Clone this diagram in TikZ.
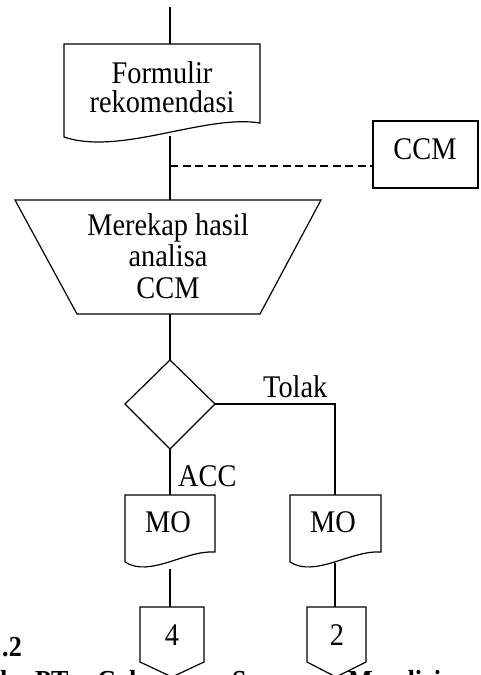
\documentclass[tikz,border=0pt]{standalone}
\usepackage{fontspec}
\setmainfont{Liberation Serif}[FakeStretch=0.9]
\begin{document}
\begin{tikzpicture}[x=1pt,y=-1pt,
  outline/.style={draw=black,line width=1.2pt,line join=miter,fill=white},
  flowline/.style={draw=black,line width=1.2pt},
  linkline/.style={flowline,dash pattern=on 8pt off 4.5pt},
  txt/.style={font=\fontsize{31.5}{28.5}\selectfont,inner sep=0pt,align=center},
  txtwide/.style={txt,font=\fontsize{31.5}{31.5}\selectfont},
  captxt/.style={font=\fontsize{29}{29}\selectfont\bfseries,inner sep=0pt}]
\useasboundingbox (0,0) rectangle (480,675);
\clip (0,0) rectangle (480,675);

% caption lines, partly hidden behind the off-page connectors
\node[captxt,anchor=base east] (capnum) at (22,656) {.2};
\node[captxt,anchor=base west] (capk) at (0,690) {k};
\node[captxt,anchor=base west] (cappt) at (35,690) {PT.};
\node[captxt,anchor=base west] (capcahaya) at (97,690) {Cahaya};
\node[captxt,anchor=base west] (capsarana) at (232,690) {Sarana};
\node[captxt,anchor=base west] (capmandiri) at (348,690) {Mandiri};

% ports of the shapes
\coordinate (start) at (170,7);
\coordinate (formtop) at (170,44);
\coordinate (formbot) at (170,136);
\coordinate (tap) at (170,166);
\coordinate (ccmleft) at (373,166);
\coordinate (rekaptop) at (170,200);
\coordinate (rekapbot) at (170,314);
\coordinate (dtop) at (170,360);
\coordinate (dright) at (215,404);
\coordinate (dbot) at (170,449);
\coordinate (tolakbend) at (335,404);
\coordinate (mo1top) at (170,495);
\coordinate (mo2top) at (335,495);
\coordinate (mo1bot) at (170,569);
\coordinate (mo2bot) at (335,563);
\coordinate (off1top) at (170,607);
\coordinate (off2top) at (335,607);

% document: Formulir rekomendasi
\path[outline] (64,44) -- (260,44) -- (260,123)
  .. controls (205,114) and (120,156) .. (64,137) -- cycle;
\node[txt,anchor=base] (form) at (162,112) {Formulir\\rekomendasi};

% CCM box
\path[outline] (373,121) rectangle (478,188);
\node[txt,anchor=base] (ccm) at (425,159) {CCM};

% manual operation: Merekap hasil analisa CCM
\path[outline] (15,200) -- (321,200) -- (260,314) -- (77,314) -- cycle;
\node[txtwide,anchor=base] (rekap) at (168,298) {Merekap hasil\\analisa\\CCM};

% decision
\path[outline] (dtop) -- (dright) -- (dbot) -- (125,404) -- cycle;
\node[inner sep=0pt] (decision) at (170,404) {};

% documents MO
\path[outline] (125,495) -- (215,495) -- (215,552)
  .. controls (185,550) and (150,578) .. (125,562) -- cycle;
\node[txt,anchor=base] (mo1) at (168,532) {MO};
\begin{scope}[shift={(165,0)}]
\path[outline] (125,495) -- (216,495) -- (216,552)
  .. controls (186,550) and (150,578) .. (125,562) -- cycle;
\end{scope}
\node[txt,anchor=base] (mo2) at (333,532) {MO};

% off-page connectors
\path[outline] (140,607) -- (204,607) -- (204,662) -- (172,677) -- (140,662) -- cycle;
\node[txt,anchor=base] (off1) at (172,645) {4};
\path[outline] (307,607) -- (366,607) -- (366,662) -- (336,677) -- (307,662) -- cycle;
\node[txt,anchor=base] (off2) at (337,645) {2};

% flow lines
\draw[flowline] (start) -- (formtop);
\draw[flowline] (formbot) -- (rekaptop);
\draw[linkline] (tap) -- (ccmleft);
\draw[flowline] (rekapbot) -- (dtop);
\draw[flowline] (dright) -- (tolakbend) -- (mo2top);
\draw[flowline] (dbot) -- (mo1top);
\draw[flowline] (mo1bot) -- (off1top);
\draw[flowline] (mo2bot) -- (off2top);

% branch labels
\node[txt,anchor=base west] (tolak) at (263,397) {Tolak};
\node[txt,anchor=base west] (acc) at (178,486) {ACC};
\end{tikzpicture}
\end{document}
